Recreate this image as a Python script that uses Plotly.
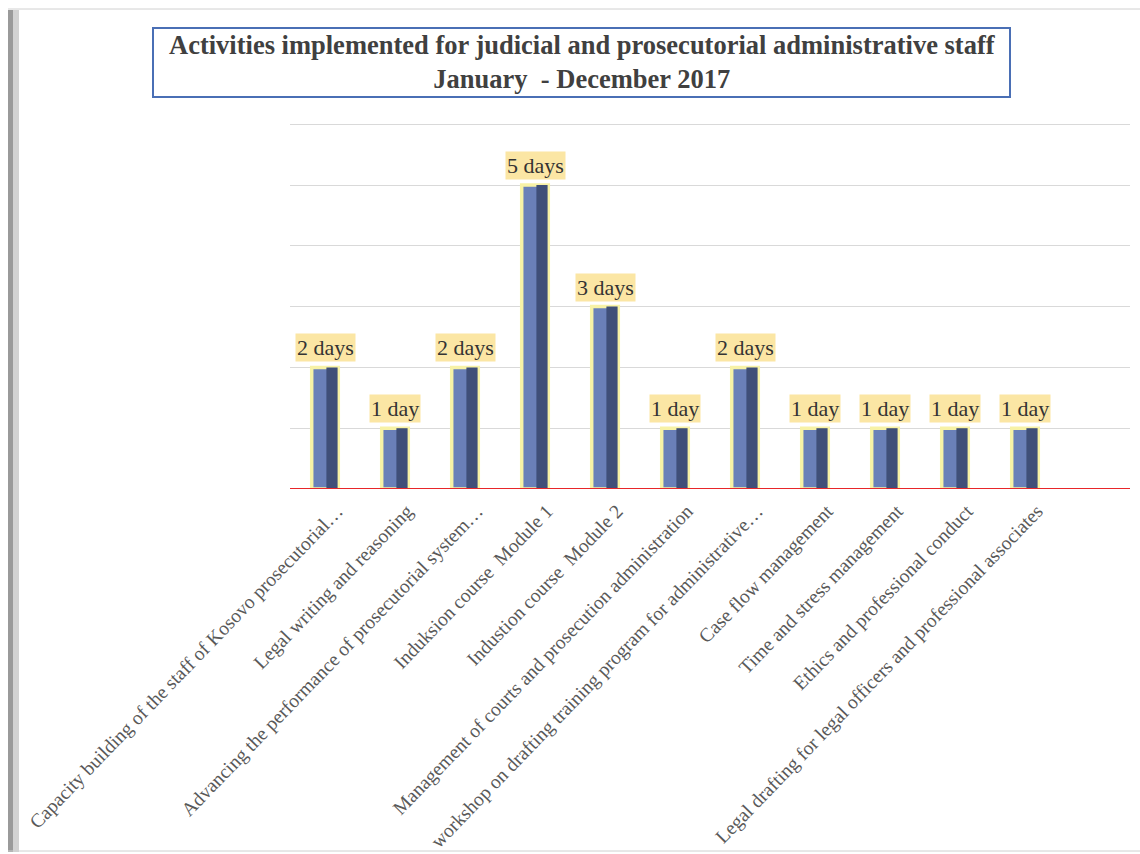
import plotly.graph_objects as go

categories = [
    "Capacity building of the staff of Kosovo prosecutorial…",
    "Legal writing and reasoning",
    "Advancing the performance of prosecutorial system…",
    "Induksion course  Module 1",
    "Industion course  Module 2",
    "Management of courts and prosecution administration",
    "workshop on drafting training program for administrative…",
    "Case flow management",
    "Time and stress management",
    "Ethics and professional conduct",
    "Legal drafting for legal officers and professional associates",
]
days = [2, 1, 2, 5, 3, 1, 2, 1, 1, 1, 1]
labels = ["2 days", "1 day", "2 days", "5 days", "3 days", "1 day", "2 days", "1 day", "1 day", "1 day", "1 day"]

fig = go.Figure()
# main bar with yellow glow outline
fig.add_trace(go.Bar(
    x=categories, y=days, width=0.38,
    marker=dict(color="#6a80b8", line=dict(color="#f7f2a6", width=3.5)),
    hoverinfo="x+y", showlegend=False,
))
# darker right face (bevel imitation)
fig.add_trace(go.Bar(
    x=categories, y=days, width=0.16, offset=0.02,
    marker=dict(color="#3f4f78", line=dict(width=0)),
    hoverinfo="skip", showlegend=False,
))

for c, v, t in zip(categories, days, labels):
    fig.add_annotation(
        x=c, y=v, text=t, showarrow=False, yanchor="bottom", yshift=5,
        bgcolor="#fbe6a4", borderpad=1,
        font=dict(family="Liberation Serif", size=22, color="#333333"),
    )

def px(x):
    return (x - 290) / 840

def py(y):
    return (854 - 365 - y) / 366

# title box
fig.add_shape(type="rect", xref="paper", yref="paper",
              x0=px(153), x1=px(1010), y0=py(97), y1=py(28),
              line=dict(color="#4a6fb5", width=2), fillcolor="white", layer="below")

fig.add_annotation(
    xref="paper", yref="paper", x=px(582), y=py(62),
    text="<b>Activities implemented for judicial and prosecutorial administrative staff<br>January  - December 2017</b>",
    showarrow=False, align="center", xanchor="center", yanchor="middle",
    font=dict(family="Liberation Serif", size=26.5, color="#404040"),
)

# red baseline
fig.add_shape(type="line", xref="paper", yref="y", x0=0, x1=1, y0=0, y1=0,
              line=dict(color="#e8262a", width=2))

# left frame shadow and outer border
fig.add_shape(type="rect", xref="paper", yref="paper",
              x0=px(8), x1=px(13), y0=py(852), y1=py(10),
              line=dict(width=0), fillcolor="#9a9a9a")
fig.add_shape(type="rect", xref="paper", yref="paper",
              x0=px(13), x1=px(19), y0=py(852), y1=py(10),
              line=dict(width=0), fillcolor="#d2d2d2")
fig.add_shape(type="line", xref="paper", yref="paper",
              x0=px(8), x1=px(1140), y0=py(9), y1=py(9),
              line=dict(color="#d0d0d0", width=1))
fig.add_shape(type="line", xref="paper", yref="paper",
              x0=px(8), x1=px(1140), y0=py(851), y1=py(851),
              line=dict(color="#d0d0d0", width=1))

fig.update_layout(
    width=1140, height=854,
    margin=dict(l=290, r=10, t=123, b=365, autoexpand=False),
    paper_bgcolor="white", plot_bgcolor="white",
    barmode="overlay", bargap=0.6,
    font=dict(family="Liberation Serif", color="#555555"),
)
fig.update_xaxes(
    range=[-0.5, 11.5], tickangle=-46, showgrid=False, showline=False, ticks="",
    ticklabelstandoff=6, ticklabelshift=12,
    tickfont=dict(family="Liberation Serif", size=19.5, color="#595959"), automargin=False,
)
fig.update_yaxes(
    range=[0, 6.02], tickvals=[1, 2, 3, 4, 5, 6], showgrid=True, gridcolor="#d9d9d9", gridwidth=1,
    showticklabels=False, zeroline=False, showline=False, ticks="", automargin=False,
)

fig.write_html("out.html")
